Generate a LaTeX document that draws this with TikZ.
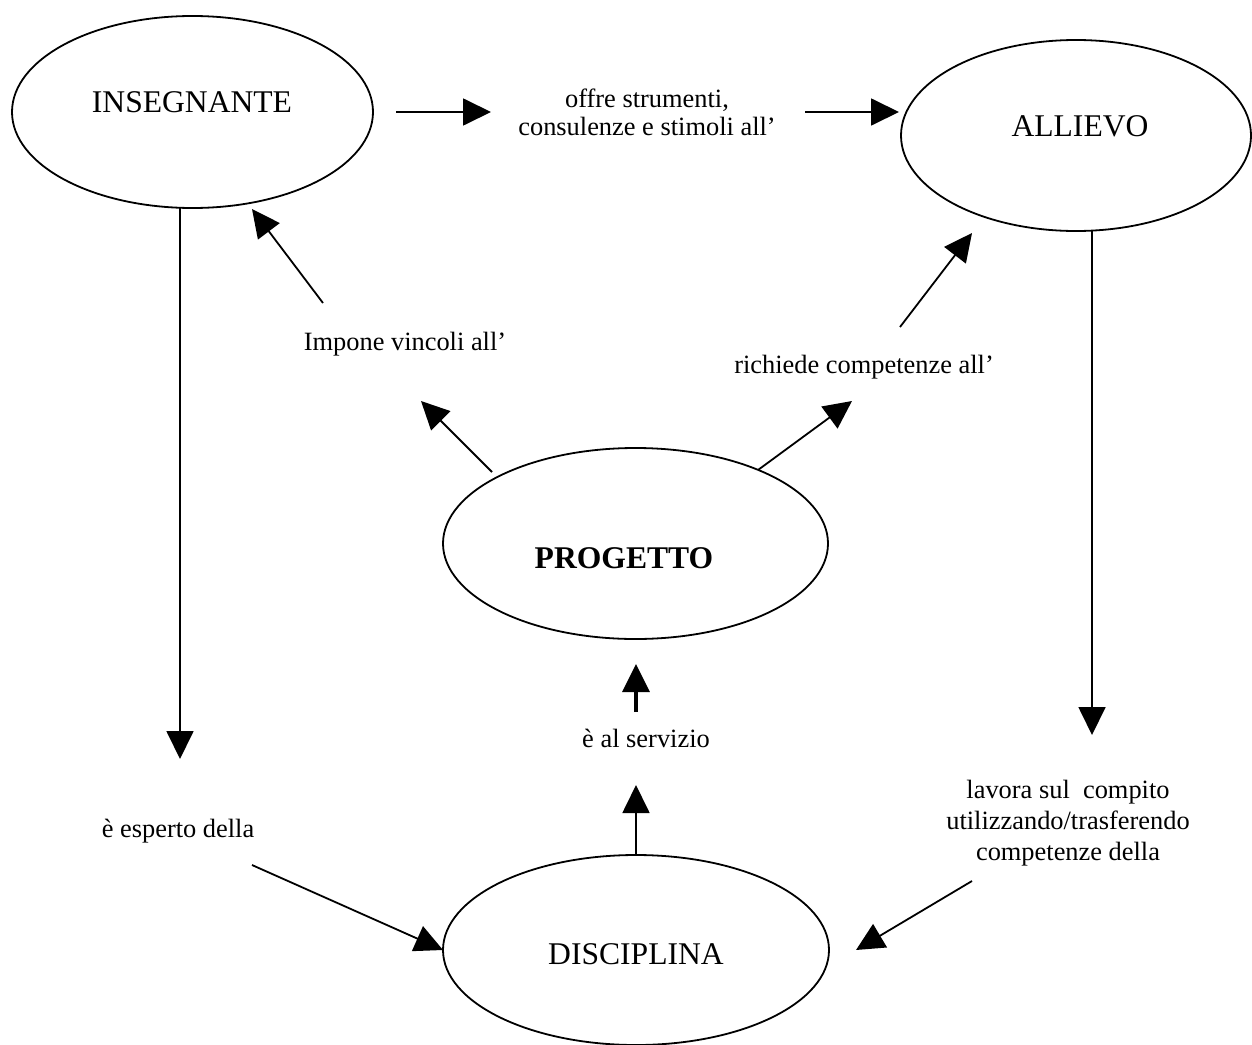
\documentclass[tikz,border=0pt]{standalone}
\usepackage{fontspec}
\setmainfont{Liberation Serif}
\usetikzlibrary{arrows.meta,shapes.geometric}
\tikzset{
  oval/.style={draw, ellipse, line width=0.9pt, inner sep=0pt},
  bigtext/.style={font=\fontsize{15.8}{19}\selectfont, inner sep=0pt, anchor=base},
  smalltext/.style={font=\fontsize{13.2}{15}\selectfont, inner sep=0pt, align=center},
  arr/.style={line width=0.9pt, -{Triangle[length=14pt,width=13.5pt]}}
}
\begin{document}
\begin{tikzpicture}[x=0.5pt,y=-0.5pt]
\useasboundingbox (0,0) rectangle (1252,1044);
\fill[white] (0,0) rectangle (1252,1044);
% ellipses
\node[oval, minimum width=180.5pt, minimum height=96pt] (ins) at (192.5,112) {};
\node[oval, minimum width=175pt, minimum height=95.5pt] (all) at (1076,135.5) {};
\node[oval, minimum width=192.5pt, minimum height=95.5pt] (prog) at (635.5,543.5) {};
\node[oval, minimum width=193pt, minimum height=95pt] (disc) at (636,950) {};
% node texts
\node[bigtext] (insT) at (192,112) {INSEGNANTE};
\node[bigtext] (allT) at (1080,136) {ALLIEVO};
\node[bigtext, font=\fontsize{15.8}{19}\selectfont\bfseries] (progT) at (624,568) {PROGETTO};
\node[bigtext] (discT) at (636,964) {DISCIPLINA};
% labels (base anchor of a multi-line node = baseline of its last line)
\node[smalltext, anchor=base, font=\fontsize{13.2}{14}\selectfont] (offre) at (647,135) {offre strumenti,\\consulenze e stimoli all’};
\node[smalltext, anchor=base] (impone) at (405,350) {Impone vincoli all’};
\node[smalltext, anchor=base] (richiede) at (864,373) {richiede competenze all’};
\node[smalltext, anchor=base] (serv) at (646,747) {è al servizio};
\node[smalltext, anchor=base] (esperto) at (178,837) {è esperto della};
\node[smalltext, anchor=base, font=\fontsize{13.2}{15.5}\selectfont] (lavora) at (1068,860) {lavora sul~ compito\\utilizzando/trasferendo\\competenze della};
% connector end points
\coordinate (a1s) at (396,112);  \coordinate (a1e) at (491,112);
\coordinate (a2s) at (805,112);  \coordinate (a2e) at (899,112);
\coordinate (a3s) at (180,208);  \coordinate (a3e) at (180,759);
\coordinate (a4s) at (1092,231); \coordinate (a4e) at (1092,735);
\coordinate (a5s) at (323,303);  \coordinate (a5e) at (252,209);
\coordinate (a6s) at (492,472);  \coordinate (a6e) at (421,401);
\coordinate (a7s) at (758,470);  \coordinate (a7e) at (852,401);
\coordinate (a8s) at (900,327);  \coordinate (a8e) at (972,233);
\coordinate (a9s) at (636,712);  \coordinate (a9e) at (636,664);
\coordinate (a10s) at (636,855); \coordinate (a10e) at (636,785);
\coordinate (a11s) at (252,865); \coordinate (a11e) at (443,950);
\coordinate (a12s) at (972,881); \coordinate (a12e) at (856,950);
% connectors
\draw[arr] (a1s) -- (a1e);
\draw[arr] (a2s) -- (a2e);
\draw[arr] (a3s) -- (a3e);
\draw[arr] (a4s) -- (a4e);
\draw[arr] (a5s) -- (a5e);
\draw[arr] (a6s) -- (a6e);
\draw[arr] (a7s) -- (a7e);
\draw[arr] (a8s) -- (a8e);
\draw[arr, line width=1.6pt] (a9s) -- (a9e);
\draw[arr] (a10s) -- (a10e);
\draw[arr] (a11s) -- (a11e);
\draw[arr] (a12s) -- (a12e);
\end{tikzpicture}
\end{document}
